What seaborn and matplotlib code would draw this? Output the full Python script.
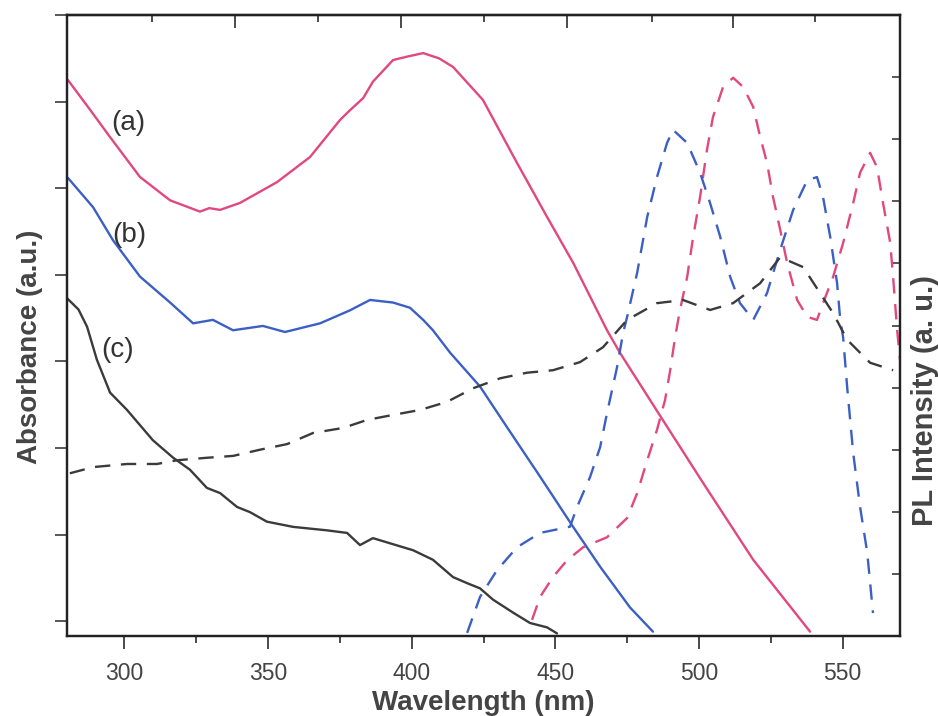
import numpy as np
import pandas as pd
import matplotlib
matplotlib.use("Agg")
import matplotlib.pyplot as plt
import seaborn as sns

# ---------------- data ----------------
# Absorbance (left axis)
wl_a = [280.3, 287.5, 295.0, 305.4, 315.9, 326.3, 329.5, 333.3, 340.2, 353.1, 364.6, 375.1,
        378.5, 383.1, 386.5, 393.5, 398.5, 404.0, 409.5, 414.4, 424.8, 436.7, 447.1, 456.2,
        468.0, 472.5, 487.5, 501.4, 518.9, 538.7]
abs_a = [6.25, 5.93, 5.59, 5.13, 4.86, 4.73, 4.77, 4.75, 4.83, 5.07, 5.36, 5.79,
         5.90, 6.04, 6.23, 6.48, 6.52, 6.56, 6.50, 6.40, 6.02, 5.29, 4.67, 4.14,
         3.36, 3.10, 2.32, 1.60, 0.71, -0.12]

wl_b = [280.3, 289.1, 296.0, 305.4, 315.9, 323.9, 330.8, 337.8, 348.2, 355.9, 368.1,
        378.5, 385.5, 393.5, 399.4, 404.0, 407.4, 413.4, 423.8, 433.2, 444.7, 456.2,
        465.6, 476.0, 484.0]
abs_b = [5.12, 4.78, 4.40, 3.98, 3.68, 3.44, 3.48, 3.36, 3.41, 3.34, 3.44,
         3.59, 3.71, 3.68, 3.62, 3.48, 3.36, 3.10, 2.71, 2.24, 1.67, 1.09,
         0.63, 0.16, -0.12]

wl_c = [280.0, 284.0, 287.0, 290.4, 295.0, 300.9, 309.9, 316.9, 322.8, 328.7, 333.3, 339.2,
        343.7, 349.6, 358.7, 370.5, 377.5, 382.0, 386.5, 392.5, 400.5, 407.4, 414.4,
        419.3, 423.8, 428.3, 435.3, 441.2, 447.1, 450.6]
abs_c = [3.73, 3.60, 3.40, 3.02, 2.64, 2.44, 2.09, 1.89, 1.75, 1.54, 1.48, 1.32,
         1.26, 1.15, 1.09, 1.05, 1.02, 0.88, 0.96, 0.90, 0.82, 0.71, 0.51,
         0.44, 0.38, 0.25, 0.10, -0.02, -0.07, -0.14]

# Photoluminescence (right axis)
wl_pl_a = [441.9, 444.7, 449.2, 454.1, 459.7, 468.0, 475.0, 478.5, 482.0, 485.4, 488.2,
           490.0, 491.7, 493.4, 495.9, 498.0, 500.4, 502.8, 504.9, 508.4, 511.9, 515.4,
           518.9, 521.3, 523.7, 525.8, 528.3, 530.7, 534.2, 537.7, 541.1, 543.2, 546.7,
           550.2, 553.7, 556.1, 559.6, 562.0, 564.1, 566.6, 567.6, 569.0, 572.0]
pl_a = [0.26, 0.63, 0.95, 1.22, 1.43, 1.59, 1.90, 2.30, 2.83, 3.32, 3.80,
        4.28, 4.81, 5.25, 5.78, 6.43, 7.07, 7.83, 8.36, 8.84, 8.99, 8.84,
        8.52, 8.04, 7.62, 7.07, 6.54, 6.01, 5.41, 5.14, 5.09, 5.36, 5.78,
        6.33, 6.97, 7.46, 7.78, 7.55, 6.97, 6.33, 5.78, 4.93, 3.50]

wl_pl_b = [419.3, 423.8, 429.7, 436.7, 444.7, 455.1, 457.6, 462.1, 465.6, 468.0, 471.5,
           473.6, 475.0, 478.5, 482.0, 485.4, 488.9, 491.0, 495.9, 500.4, 503.9, 507.4,
           510.9, 514.3, 518.9, 523.7, 528.3, 532.8, 537.7, 541.1, 543.2, 545.7, 548.1,
           549.2, 550.2, 551.6, 553.7, 556.1, 558.6, 560.6]
pl_b = [0.05, 0.63, 1.06, 1.43, 1.66, 1.76, 2.08, 2.56, 3.04, 3.59, 4.33,
        4.88, 5.14, 5.85, 6.75, 7.39, 7.94, 8.15, 7.94, 7.46, 6.97, 6.43,
        5.78, 5.36, 5.09, 5.52, 6.22, 6.86, 7.34, 7.39, 7.07, 6.43, 5.68,
        5.09, 4.81, 4.01, 2.95, 2.08, 1.34, 0.37]

wl_pl_c = [281.0, 289.1, 300.9, 311.3, 318.3, 328.7, 337.8, 347.2, 356.6, 365.7, 376.1,
           384.5, 393.5, 402.9, 412.3, 421.4, 430.8, 440.2, 449.2, 458.6, 466.6, 475.0,
           485.4, 494.5, 503.9, 511.9, 521.3, 528.3, 536.3, 542.2, 546.7, 551.6, 559.6,
           567.6]
pl_c = [2.62, 2.72, 2.77, 2.77, 2.83, 2.87, 2.90, 3.00, 3.09, 3.27, 3.35,
        3.48, 3.56, 3.64, 3.77, 3.99, 4.15, 4.24, 4.28, 4.41, 4.65, 5.09,
        5.36, 5.41, 5.25, 5.36, 5.68, 6.10, 5.94, 5.52, 5.20, 4.77, 4.40,
        4.28]

labels = ["(a)", "(b)", "(c)"]
label_x = [301.5, 301.8, 297.5]
label_y = [5.75, 4.46, 3.13]

x_major = [300, 350, 400, 450, 500, 550]
x_minor = [325, 375, 425, 475, 525]
top_major = [338.5, 396.3, 454.1, 511.9]
top_minor = [309.6, 367.4, 425.2, 483.7, 540.4]

# ---------------- style ----------------
sns.set_style("ticks")
plt.rcParams["font.family"] = ["Liberation Sans", "DejaVu Sans"]

PINK = "#e0487f"
BLUE = "#3c5fc4"
DARK = "#3b3b3b"
TXT = "#444444"

fig = plt.figure(figsize=(9.38, 7.16), dpi=100)
ax = fig.add_axes([67 / 938, 1 - 636 / 716, (900 - 67) / 938, (636 - 15) / 716])
ax2 = ax.twinx()

lw = 1.7
for wl, ab, col in [(wl_a, abs_a, PINK), (wl_b, abs_b, BLUE), (wl_c, abs_c, DARK)]:
    df = pd.DataFrame({"wl": wl, "v": ab})
    sns.lineplot(data=df, x="wl", y="v", ax=ax, color=col, lw=lw,
                 estimator=None, sort=False, legend=False)

dash = (0, (6.5, 4.5))
for wl, pl, col in [(wl_pl_a, pl_a, PINK), (wl_pl_b, pl_b, BLUE), (wl_pl_c, pl_c, DARK)]:
    df = pd.DataFrame({"wl": wl, "v": pl})
    sns.lineplot(data=df, x="wl", y="v", ax=ax2, color=col, lw=lw, linestyle=dash,
                 estimator=None, sort=False, legend=False)

for t, x, y in zip(labels, label_x, label_y):
    ax.text(x, y, t, fontsize=20, color="#333333", ha="center", va="center")

ax.set_xlim(280, 570)
ax.set_ylim(-0.17, 7.0)
ax2.set_ylim(0, 10)

ax.set_xticks(x_major)
ax.set_xticks(x_minor, minor=True)
ax.set_yticks(range(0, 8))
ax.set_yticklabels([])
ax2.set_yticks(range(0, 11))
ax2.set_yticklabels([])

ax.tick_params(axis="x", which="major", direction="out", length=9, width=1.3,
               labelsize=16.5, labelcolor=TXT, pad=10, color=DARK)
ax.tick_params(axis="x", which="minor", direction="out", length=5, width=1.3, color=DARK)
ax.tick_params(axis="y", which="major", direction="out", length=9, width=1.2, color=DARK,
               left=True, right=False)
ax2.tick_params(axis="y", which="major", direction="in", length=6, width=1.2, color=DARK,
                right=True, left=False)

sec = ax.secondary_xaxis("top")
sec.set_xticks(top_major)
sec.set_xticks(top_minor, minor=True)
sec.set_xticklabels([])
sec.tick_params(which="major", direction="in", length=9, width=1.3, color=DARK)
sec.tick_params(which="minor", direction="in", length=5, width=1.3, color=DARK)

for a in (ax, ax2):
    for s in a.spines.values():
        s.set_linewidth(1.6)
        s.set_color("#222222")
sec.spines["top"].set_linewidth(1.6)
sec.spines["top"].set_color("#222222")

ax.set_xlabel("Wavelength (nm)", fontsize=20, fontweight="bold", color=TXT, va="center")
ax.xaxis.set_label_coords(0.5, -0.108)
ax.set_ylabel("Absorbance (a.u.)", fontsize=20, fontweight="bold", color=TXT, va="center")
ax.yaxis.set_label_coords(-0.045, 0.465)
ax2.set_ylabel("PL Intensity (a. u.)", fontsize=21, fontweight="bold", color=TXT,
               va="center", rotation=90)
ax2.yaxis.set_label_coords(1.03, 0.38)

fig.savefig("out.png", dpi=100, facecolor="white")
